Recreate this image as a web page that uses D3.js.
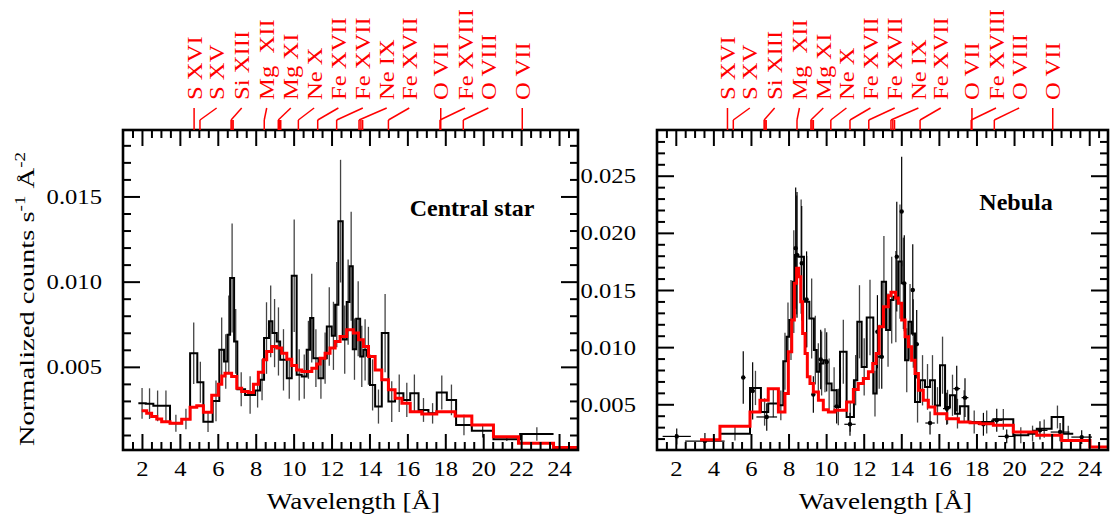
<!DOCTYPE html>
<html><head><meta charset="utf-8">
<script src="https://cdn.jsdelivr.net/npm/d3@7/dist/d3.min.js"></script>
<style>html,body{margin:0;padding:0;background:#fff;} svg{display:block;}</style>
</head><body>
<svg id="chart" width="1110" height="519"></svg>
<script>
// ---------------- data ----------------
const xTickLabels = [2,4,6,8,10,12,14,16,18,20,22,24];
const leftYTickLabels = [0.005,0.010,0.015];
const rightYTickLabels = [0.005,0.010,0.015,0.020,0.025];

const lineLabels = ["S XVI","S XV","Si XIII","Mg\u00A0\u00A0XII","Mg XI","Ne X","Fe XVII","Fe XVII","Ne IX","Fe XVII","O VII","Fe XVIII","O VIII","O VII"];
const lineLabelPos = [4.75,5.94,7.26,8.58,9.85,11.08,12.36,13.65,14.91,16.10,17.76,19.04,20.27,22.06];
const lineWaves = [[4.75],[5.06],[6.70,6.75,6.81],[8.45],[9.19,9.25,9.32],[10.25],[11.27],[12.27],[13.45,13.55,13.64],[15.00],[17.76],[17.72],[18.95],[22.06]];

// Central star: observed spectrum (bin edges, counts, 1-sigma errors)
const starEdges = [1.81,2.20,2.60,3.05,3.48,4.10,4.54,4.92,5.24,5.73,6.08,6.33,6.51,6.65,6.86,7.03,7.44,7.97,8.23,8.44,8.70,8.88,9.11,9.29,9.64,9.90,10.16,10.43,10.69,10.87,11.04,11.31,11.57,11.75,12.01,12.19,12.36,12.59,12.80,12.95,13.12,13.30,13.51,13.68,13.86,14.03,14.30,14.65,15.00,15.35,15.79,16.15,16.59,17.11,17.55,18.08,18.57,19.40,20.54,21.95,23.71];
const starCounts = [0.00286,0.00284,0.00271,0.00271,0.00169,0.00194,0.00580,0.00410,0.00178,0.00300,0.00600,0.00531,0.00688,0.01022,0.00649,0.00369,0.00335,0.00361,0.00424,0.00669,0.00767,0.00698,0.00649,0.00541,0.00433,0.01035,0.00453,0.00443,0.00600,0.00786,0.00551,0.00433,0.00551,0.00737,0.00682,0.00865,0.01355,0.00660,0.00880,0.01090,0.00604,0.00782,0.00561,0.00600,0.00565,0.00394,0.00267,0.00698,0.00296,0.00345,0.00306,0.00345,0.00247,0.00227,0.00349,0.00306,0.00159,0.00125,0.00075,0.00106];
const starErrors = [0.0009,0.0009,0.0009,0.0009,0.0005,0.0006,0.0018,0.0012,0.0006,0.0012,0.0019,0.0016,0.0023,0.0032,0.0019,0.0010,0.0011,0.0010,0.0012,0.0021,0.0021,0.0020,0.0020,0.0018,0.0012,0.0033,0.0015,0.0013,0.0017,0.0026,0.0017,0.0012,0.0015,0.0023,0.0020,0.0025,0.0036,0.0020,0.0025,0.0032,0.0018,0.0022,0.0018,0.0018,0.0017,0.0015,0.0010,0.0023,0.0012,0.0011,0.0010,0.0011,0.0007,0.0006,0.0010,0.0009,0.0006,0.0004,0.0001,0.0004];
// Central star: model
const starModelEdges = [1.985,2.25,2.51,2.78,3.04,3.48,4.10,4.54,4.89,5.24,5.68,6.03,6.21,6.38,6.73,7.00,7.26,7.61,7.88,8.14,8.41,8.58,8.85,9.11,9.37,9.64,9.90,10.16,10.43,10.96,11.22,11.40,11.66,11.92,12.19,12.45,12.80,13.15,13.42,13.68,13.95,14.30,14.65,15.00,15.35,15.71,16.15,16.76,17.55,18.52,19.40,20.54,21.86,23.71,25.0];
const starModel = [0.00243,0.00227,0.00208,0.00194,0.00178,0.00169,0.00192,0.00263,0.00271,0.00233,0.00333,0.00398,0.00447,0.00463,0.00443,0.00375,0.00355,0.00349,0.00398,0.00469,0.00541,0.00590,0.00620,0.00610,0.00580,0.00545,0.00508,0.00482,0.00473,0.00492,0.00516,0.00551,0.00580,0.00610,0.00649,0.00678,0.00718,0.00698,0.00659,0.00620,0.00561,0.00482,0.00424,0.00365,0.00316,0.00286,0.00237,0.00224,0.00237,0.00212,0.00159,0.00090,0.00051,0.00027];

// Nebula: binned spectrum
const nebEdges = [4.35,5.95,6.53,6.92,7.46,7.72,7.90,8.04,8.22,8.34,8.52,8.82,9.11,9.35,9.50,9.67,9.85,10.03,10.29,10.56,10.74,11.09,11.48,11.66,11.89,12.16,12.51,12.69,12.96,13.19,13.40,13.58,13.84,14.02,14.20,14.38,14.55,14.73,15.00,15.26,15.53,15.79,16.06,16.33,16.59,16.86,17.12,17.57,18.19,18.90,19.96,20.76,21.21,22.00,22.62,23.15];
const nebCounts = [0.00243,0.00643,0.00433,0.00506,0.00491,0.00877,0.01090,0.01237,0.01573,0.01807,0.01792,0.01398,0.01251,0.00974,0.00784,0.00857,0.00886,0.00681,0.00623,0.00477,0.00959,0.00389,0.00711,0.01222,0.00827,0.01260,0.00594,0.00915,0.01573,0.01149,0.01412,0.01442,0.01749,0.01558,0.00886,0.01222,0.01120,0.00520,0.00710,0.00652,0.00710,0.00490,0.00842,0.00477,0.00579,0.00418,0.00482,0.00345,0.00345,0.00368,0.00228,0.00243,0.00287,0.00389,0.00243];
const nebErrors = [0.0006,0.0015,0.0012,0.0012,0.0013,0.0025,0.0030,0.0035,0.0045,0.0052,0.0050,0.0040,0.0035,0.0030,0.0025,0.0028,0.0028,0.0022,0.0020,0.0016,0.0028,0.0013,0.0022,0.0032,0.0025,0.0033,0.0020,0.0028,0.0040,0.0032,0.0038,0.0040,0.0050,0.0040,0.0028,0.0033,0.0030,0.0018,0.0022,0.0020,0.0022,0.0016,0.0025,0.0015,0.0018,0.0013,0.0014,0.0010,0.0010,0.0009,0.0007,0.0007,0.0008,0.0010,0.0007];
// Nebula: second data set (points with x and y errors)
const nebPointWave   = [2.05,3.55,5.59,6.09,6.84,8.38,8.45,8.70,8.96,9.32,9.71,10.03,10.56,11.27,12.73,12.96,13.76,14.02,14.16,14.61,14.82,15.53,16.42,16.95,17.39,18.37,19.08,19.61,21.38,22.45,23.60];
const nebPointCounts = [0.00219,0.00178,0.00734,0.00617,0.00389,0.01866,0.01807,0.01734,0.01418,0.00585,0.00892,0.00871,0.00482,0.00325,0.01135,0.00915,0.01792,0.02187,0.01558,0.01500,0.01026,0.00336,0.00462,0.00637,0.00558,0.00325,0.00360,0.00219,0.00272,0.00257,0.00213];
const nebPointXErr   = [0.75,1.05,0.12,0.12,0.55,0.06,0.06,0.08,0.08,0.10,0.10,0.10,0.15,0.30,0.10,0.10,0.10,0.08,0.10,0.10,0.12,0.25,0.20,0.18,0.18,0.30,0.30,0.45,0.40,0.50,0.55];
const nebPointYErr   = [0.0007,0.0007,0.0023,0.0025,0.0012,0.0053,0.0055,0.0050,0.0042,0.0016,0.0026,0.0026,0.0015,0.0010,0.0032,0.0028,0.0048,0.0048,0.0042,0.0040,0.0030,0.0010,0.0014,0.0020,0.0017,0.0010,0.0010,0.0006,0.0008,0.0008,0.0006];
// Nebula: model
const nebModelEdges = [3.29,4.35,5.95,6.48,6.92,7.46,7.81,7.99,8.17,8.31,8.43,8.54,8.65,8.75,8.88,9.00,9.14,9.32,9.59,9.85,10.12,10.47,10.83,11.09,11.45,11.71,11.98,12.25,12.48,12.66,12.82,13.05,13.31,13.45,13.70,13.84,14.02,14.20,14.38,14.55,14.73,14.91,15.17,15.44,15.79,16.42,17.04,17.66,18.19,18.90,19.96,21.21,22.54,24.04,25.0];
const nebModel = [0.00190,0.00307,0.00433,0.00535,0.00637,0.00433,0.00594,0.00959,0.01237,0.01558,0.01690,0.01617,0.01398,0.01120,0.00944,0.00740,0.00681,0.00608,0.00535,0.00453,0.00433,0.00447,0.00447,0.00520,0.00629,0.00681,0.00725,0.00784,0.00857,0.00944,0.01178,0.01354,0.01450,0.01480,0.01430,0.01383,0.01237,0.01091,0.01003,0.00886,0.00769,0.00623,0.00535,0.00477,0.00418,0.00374,0.00345,0.00339,0.00330,0.00316,0.00257,0.00228,0.00184,0.00126];

// ---------------- drawing ----------------
const FONT = '"Liberation Serif","Times New Roman",Times,serif';
const SX = 1.12;
const svg = d3.select("#chart");
const defs = svg.append("defs");

function drawPanel(o){
  const x = d3.scaleLinear().domain([1,25]).range([o.left,o.right]);
  const y = d3.scaleLinear().domain(o.yDomain).range([o.bottom,o.top]);
  const g = svg.append("g");
  defs.append("clipPath").attr("id","clip"+o.id).append("rect")
    .attr("x",o.left).attr("y",o.top).attr("width",o.right-o.left).attr("height",o.bottom-o.top);
  const plot = g.append("g").attr("clip-path",`url(#clip${o.id})`);

  // error bars of the binned spectrum
  const mids = o.counts.map((v,i)=>(o.edges[i]+o.edges[i+1])/2);
  plot.append("g").selectAll("line").data(o.counts).join("line")
    .attr("x1",(d,i)=>x(mids[i])).attr("x2",(d,i)=>x(mids[i]))
    .attr("y1",(d,i)=>y(d-o.errors[i])).attr("y2",(d,i)=>y(d+o.errors[i]))
    .attr("stroke","#444").attr("stroke-width",1.3);

  const step = d3.line().x(d=>x(d[0])).y(d=>y(d[1])).curve(d3.curveStepAfter);
  const toSteps = (edges,vals)=>vals.map((v,i)=>[edges[i],v]).concat([[edges[edges.length-1],vals[vals.length-1]]]);

  plot.append("path").attr("d",step(toSteps(o.edges,o.counts)))
    .attr("fill","none").attr("stroke","#000").attr("stroke-width",2);

  if(o.points){
    const pg = plot.append("g").attr("stroke","#000").attr("stroke-width",1.2);
    o.points.w.forEach((w,i)=>{
      const v=o.points.c[i], xe=o.points.xe[i], ye=o.points.ye[i];
      pg.append("line").attr("x1",x(w-xe)).attr("x2",x(w+xe)).attr("y1",y(v)).attr("y2",y(v));
      pg.append("line").attr("x1",x(w)).attr("x2",x(w)).attr("y1",y(v-ye)).attr("y2",y(v+ye));
      pg.append("circle").attr("cx",x(w)).attr("cy",y(v)).attr("r",1.6).attr("fill","#000");
    });
  }

  plot.append("path").attr("d",step(toSteps(o.modelEdges,o.model)))
    .attr("fill","none").attr("stroke","#ff0000").attr("stroke-width",3);

  // axes (ticks inward)
  const minorX = d3.range(1.5,25,0.5).filter(v=>v%2!==0);
  const styleAxis = sel=>{sel.select(".domain").remove(); sel.selectAll(".tick line").attr("stroke","#000").attr("stroke-width",2);};
  g.append("g").attr("transform",`translate(0,${o.bottom})`)
    .call(d3.axisBottom(x).tickValues(minorX).tickSize(-8).tickFormat("")).call(styleAxis);
  g.append("g").attr("transform",`translate(0,${o.top})`)
    .call(d3.axisTop(x).tickValues(minorX).tickSize(-8).tickFormat("")).call(styleAxis);
  g.append("g").attr("transform",`translate(0,${o.top})`)
    .call(d3.axisTop(x).tickValues(xTickLabels).tickSize(-16).tickFormat("")).call(styleAxis);
  const bx = g.append("g").attr("transform",`translate(0,${o.bottom})`)
    .call(d3.axisBottom(x).tickValues(xTickLabels).tickSize(-16).tickPadding(10).tickFormat(d3.format("d")))
    .call(styleAxis);
  bx.selectAll("text").attr("font-family",FONT).attr("font-size",22).attr("fill","#000")
    .attr("transform",`scale(${SX},1)`);

  const minorY = d3.range(0.001,o.yDomain[1],0.001).map(v=>+v.toFixed(3)).filter(v=>v>o.yDomain[0] && Math.round(v*1000)%5!==0);
  g.append("g").attr("transform",`translate(${o.left},0)`)
    .call(d3.axisLeft(y).tickValues(minorY).tickSize(-8).tickFormat("")).call(styleAxis);
  g.append("g").attr("transform",`translate(${o.right},0)`)
    .call(d3.axisRight(y).tickValues(minorY).tickSize(-8).tickFormat("")).call(styleAxis);
  g.append("g").attr("transform",`translate(${o.right},0)`)
    .call(d3.axisRight(y).tickValues(o.yTicks).tickSize(-17).tickFormat("")).call(styleAxis);
  const ly = g.append("g").attr("transform",`translate(${o.left},0)`)
    .call(d3.axisLeft(y).tickValues(o.yTicks).tickSize(-17).tickPadding(21).tickFormat(d3.format(".3f")))
    .call(styleAxis);
  ly.selectAll("text").attr("font-family",FONT).attr("font-size",22).attr("fill","#000")
    .attr("x",-21/SX).attr("transform",`scale(${SX},1)`);

  // frame
  g.append("rect").attr("x",o.left).attr("y",o.top).attr("width",o.right-o.left).attr("height",o.bottom-o.top)
    .attr("fill","none").attr("stroke","#000").attr("stroke-width",2.6);

  // line identifications
  const lg = g.append("g").attr("stroke","#ff0000").attr("stroke-width",1.5).attr("fill","none");
  lineLabels.forEach((lab,i)=>{
    const lx = x(lineLabelPos[i]);
    lineWaves[i].forEach(w=>{
      lg.append("path").attr("d",`M${x(w)},${o.top}V${o.top-10}`);
    });
    lg.append("path").attr("d",`M${x(lineWaves[i][0])},${o.top-10}L${lx},${o.top-22}`);
    g.append("text").attr("transform",`translate(${lx+7.5},${o.top-30}) rotate(-90) scale(${SX},1)`)
      .attr("font-family",FONT).attr("font-size",22).attr("fill","#ff0000").attr("text-anchor","start")
      .style("white-space","pre").text(lab);
  });

  // panel title
  g.append("text").attr("x",o.titleX).attr("y",o.titleY).attr("text-anchor","middle")
    .attr("font-family",FONT).attr("font-weight","bold").attr("font-size",24).attr("fill","#000").text(o.title);

  // x axis title
  g.append("text").attr("transform",`translate(${(o.left+o.right)/2+3},509) scale(1.18,1)`)
    .attr("text-anchor","middle").attr("font-family",FONT).attr("font-size",23).attr("fill","#000")
    .text("Wavelength [Å]");
}

drawPanel({id:"L",left:123,right:578,top:130,bottom:450,yDomain:[0.00012,0.0189],yTicks:leftYTickLabels,
  edges:starEdges,counts:starCounts,errors:starErrors,modelEdges:starModelEdges,model:starModel,
  title:"Central star",titleX:472,titleY:216});
drawPanel({id:"R",left:657,right:1108,top:130,bottom:450,yDomain:[0.001,0.029],yTicks:rightYTickLabels,
  edges:nebEdges,counts:nebCounts,errors:nebErrors,modelEdges:nebModelEdges,model:nebModel,
  points:{w:nebPointWave,c:nebPointCounts,xe:nebPointXErr,ye:nebPointYErr},
  title:"Nebula",titleX:1016,titleY:210});

// y axis title
const yt = svg.append("text").attr("transform",`translate(34,299) rotate(-90) scale(1.36,1)`)
  .attr("text-anchor","middle").attr("font-family",FONT).attr("font-size",21).attr("fill","#000");
yt.append("tspan").text("Normalized counts s");
yt.append("tspan").attr("font-size",14).attr("dy",-9).text("-1");
yt.append("tspan").attr("font-size",21).attr("dy",9).text(" Å");
yt.append("tspan").attr("font-size",14).attr("dy",-9).text("-2");
</script>
</body></html>
